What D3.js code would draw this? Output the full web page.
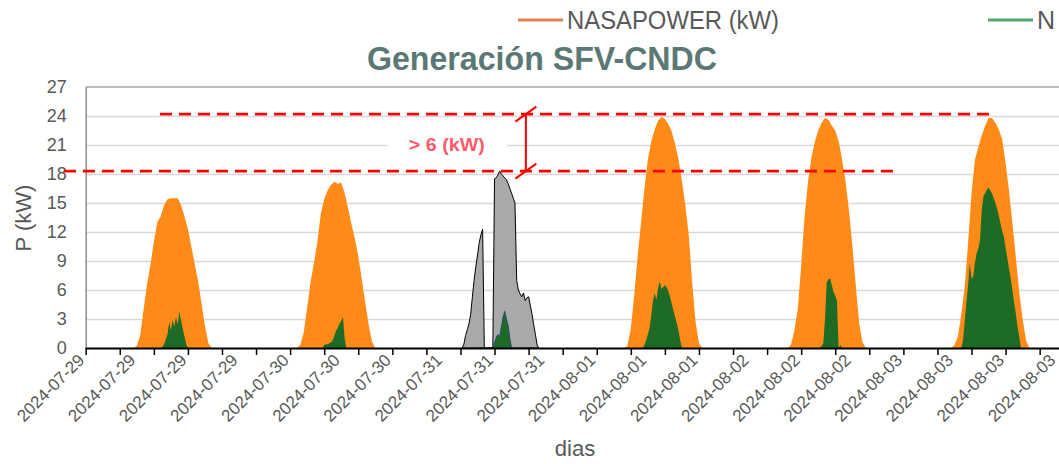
<!DOCTYPE html>
<html>
<head>
<meta charset="utf-8">
<script src="https://cdn.jsdelivr.net/npm/d3@7/dist/d3.min.js"></script>
<style>
  html, body { margin: 0; padding: 0; background: #fff; overflow: hidden; }
  svg { display: block; }
</style>
</head>
<body>
<svg id="chart" width="1059" height="464"></svg>
<script>
// ---------------- DATA ----------------
const titleText = "Generación SFV-CNDC";
const yLabelText = "P (kW)";
const xLabelText = "dias";
const legendNames = ["NASAPOWER (kW)", "N"];

// y ticks
const yTicks = [0, 3, 6, 9, 12, 15, 18, 21, 24, 27];
// x ticks: hours since 2024-07-29 00:00
const xTickHours = d3.range(0, 141, 5);
const xTickLabels = ["2024-07-29","2024-07-29","2024-07-29","2024-07-29",
  "2024-07-30","2024-07-30","2024-07-30",
  "2024-07-31","2024-07-31","2024-07-31",
  "2024-08-01","2024-08-01","2024-08-01",
  "2024-08-02","2024-08-02","2024-08-02",
  "2024-08-03","2024-08-03","2024-08-03","2024-08-03"];
const xLabelHours = [0, 7.5, 15, 22.5, 30, 37.5, 45, 52.5, 60, 67.5, 75, 82.5, 90, 97.5, 105, 112.5, 120, 127.5, 135, 142.5];

// NASAPOWER (kW), half-hour steps starting at 07:00 local
const nasaDayIndex = [0, 1, 3, 4, 5];
const nasaStartHour = 7;
const nasaStep = 0.5;
const nasa0729 = [0, 0.2, 1.3, 4.0, 6.6, 8.6, 11.0, 13.0, 13.6, 14.8, 15.4, 15.5, 15.5, 15.5, 14.8, 13.6, 12.3, 10.5, 8.7, 6.9, 4.6, 2.3, 0.5, 0];
const nasa0730 = [0, 0.3, 1.6, 4.2, 6.8, 8.8, 11.0, 13.9, 15.4, 16.3, 16.9, 17.2, 17.0, 17.1, 16.0, 14.5, 12.8, 11.3, 9.5, 7.2, 4.8, 2.5, 0.7, 0];
const nasa0801 = [0, 0.2, 2.0, 5.5, 9.5, 13.0, 16.5, 19.5, 21.4, 22.6, 23.5, 23.9, 23.7, 23.2, 22.4, 21.1, 19.5, 17.3, 14.8, 11.7, 6.8, 2.7, 0.5, 0];
const nasa0802 = [0, 0.3, 1.8, 4.0, 8.5, 13.6, 17.2, 19.7, 21.3, 22.5, 23.3, 23.8, 23.6, 23.0, 22.5, 21.4, 19.5, 17.3, 14.3, 10.7, 6.6, 2.6, 0.6, 0];
const nasa0803 = [0, 0.3, 1.2, 3.5, 6.3, 10.9, 16.0, 19.5, 20.8, 22.0, 23.0, 23.8, 23.8, 23.3, 22.6, 21.6, 19.1, 16.3, 12.9, 9.4, 5.8, 3.0, 0.8, 0];
const nasaSeries = [nasa0729, nasa0730, nasa0801, nasa0802, nasa0803];

// Estimated series for 2024-07-31 (grey), quarter-hour steps from 07:15
const estDayIndex = 2;
const estStartHour = 7.25;
const estStep = 0.25;
const est0731 = [0, 0.4, 1.3, 1.9, 2.5, 3.5, 5.3, 7.0, 8.4, 9.6, 10.9, 11.7, 12.3,
  0, 0, 0, 0, 0, 0,
  17.5, 17.6, 17.9, 18.3, 18.0, 17.8, 17.6, 17.4, 17.0, 16.5, 16.0, 15.5, 15.0,
  7.0, 6.0, 5.6, 5.3, 5.7, 4.9, 5.2, 5.3, 4.4, 3.5, 2.4, 1.4, 0.3, 0];

// Measured (green), quarter-hour steps
const measDayIndex = [0, 1, 2, 3, 4, 5];
const measStartHour = [11.0, 10.75, 11.75, 9.75, 11.75, 8.5];
const measStep = 0.25;
const meas0729 = [0, 0.1, 0.4, 0.9, 1.4, 2.7, 1.8, 2.9, 2.2, 3.2, 2.4, 3.8, 2.8, 2.0, 1.2, 0.4, 0];
const meas0730 = [0, 0.3, 0.4, 0.4, 0.5, 0.6, 0.8, 1.3, 1.8, 2.1, 2.5, 2.8, 3.2, 1.0, 0];
const meas0731 = [0, 0.5, 1.1, 1.4, 1.2, 2.2, 3.2, 3.8, 3.0, 2.3, 1.0, 0];
const meas0801 = [0, 0.3, 0.8, 1.4, 2.1, 3.4, 4.9, 5.7, 5.0, 6.2, 6.9, 6.1, 6.3, 6.5, 6.3, 5.9, 5.3, 4.6, 3.9, 3.2, 2.5, 1.8, 0.8, 0];
const meas0802 = [0, 0.2, 0.5, 3.0, 6.8, 7.1, 7.2, 6.5, 5.8, 5.4, 4.9, 0, 0.3, 0];
const meas0803 = [0, 0.8, 2.8, 4.7, 6.5, 8.8, 7.2, 7.4, 8.8, 9.8, 10.3, 11.2, 14.3, 15.7, 16.0, 16.4, 16.6, 16.3, 16.0, 15.5, 15.0, 14.4, 13.7, 12.9, 12.1, 11.5, 10.4, 9.3, 8.2, 7.2, 6.0, 4.7, 3.6, 2.2, 1.2, 0];
const measSeries = [meas0729, meas0730, meas0731, meas0801, meas0802, meas0803];

// Annotation (hours, kW)
const refHigh = 24.2, refLow = 18.3;
const refHighSpan = [10.9, 133.2];
const refLowSpan = [-3.2, 119.1];
const gapHour = 64.6;
const gapText = "> 6 (kW)";

// ---------------- CHART ----------------
const svg = d3.select("#chart");
const W = 1059, H = 464;
const m = { left: 85.7, top: 87, bottom: 348 };
const pxPerHour = 34.07 / 5;

const x = d3.scaleLinear().domain([0, 144]).range([m.left, m.left + 144 * pxPerHour]);
const y = d3.scaleLinear().domain([0, 27]).range([m.bottom, m.top]);

const font = "'Liberation Sans', Arial, sans-serif";
const textGray = "#595959";

// gridlines
const grid = svg.append("g").attr("transform", `translate(${m.left},0)`)
  .call(d3.axisLeft(y).tickValues(yTicks.filter(t => t > 0 && t < 27)).tickSize(-(W - m.left)).tickFormat(""));
grid.select(".domain").remove();
grid.selectAll("line").attr("stroke", "#d9d9d9").attr("stroke-width", 1.5);

// top border
svg.append("line").attr("x1", m.left).attr("x2", W).attr("y1", y(27)).attr("y2", y(27))
  .attr("stroke", "#a6a6a6").attr("stroke-width", 1.5);

// areas
const areaGen = (start, step, dayIdx) => d3.area()
  .x((d, i) => x(dayIdx * 24 + start + i * step))
  .y0(y(0))
  .y1(d => y(d));

nasaSeries.forEach((vals, k) => {
  svg.append("path").datum(vals)
    .attr("d", areaGen(nasaStartHour, nasaStep, nasaDayIndex[k]))
    .attr("fill", "#fe8b18");
});

svg.append("path").datum(est0731)
  .attr("d", areaGen(estStartHour, estStep, estDayIndex))
  .attr("fill", "#a9a9a9").attr("stroke", "#000").attr("stroke-width", 1);

measSeries.forEach((vals, k) => {
  const p = svg.append("path").datum(vals)
    .attr("d", areaGen(measStartHour[k], measStep, measDayIndex[k]))
    .attr("fill", "#1d6b25");
  if (measDayIndex[k] === estDayIndex) p.attr("stroke", "#1f3d73").attr("stroke-width", 0.8);
});

// y axis
const yAx = svg.append("g").attr("transform", `translate(${m.left},0)`)
  .call(d3.axisLeft(y).tickValues(yTicks).tickSize(0).tickPadding(19));
yAx.select(".domain").attr("stroke", "#8c8c8c").attr("stroke-width", 1.5);
yAx.selectAll("text").attr("font-family", font).attr("font-size", 18).attr("fill", textGray);

// x axis (ticks)
const xAx = svg.append("g").attr("transform", `translate(0,${m.bottom})`)
  .call(d3.axisBottom(x).tickValues(xTickHours).tickSize(7).tickSizeOuter(0).tickFormat(""));
xAx.select(".domain").attr("stroke", "#000").attr("stroke-width", 2)
  .attr("d", `M${m.left},0.5H${W}`);
xAx.selectAll(".tick line").attr("stroke", "#000").attr("stroke-width", 1.5);

// x axis labels
const xLab = svg.append("g").attr("transform", `translate(0,${m.bottom})`)
  .call(d3.axisBottom(x).tickValues(xLabelHours).tickSize(0).tickFormat((d, i) => xTickLabels[i]));
xLab.select(".domain").remove();
xLab.selectAll("text")
  .attr("font-family", font).attr("font-size", 17).attr("fill", textGray)
  .attr("text-anchor", "end")
  .attr("transform", "translate(-5,9) rotate(-45)")
  .attr("dy", "0.35em").attr("y", 0).attr("x", 0);

// annotation: white box behind the text
svg.append("rect").attr("x", x(44.3)).attr("y", y(22.7)).attr("width", x(61.8) - x(44.3))
  .attr("height", y(19.4) - y(22.7)).attr("fill", "#fff");

svg.append("line").attr("x1", x(refHighSpan[0])).attr("x2", x(refHighSpan[1]))
  .attr("y1", y(refHigh)).attr("y2", y(refHigh))
  .attr("stroke", "#ff0000").attr("stroke-width", 2.7).attr("stroke-dasharray", "12,7");
svg.append("line").attr("x1", x(refLowSpan[0])).attr("x2", x(refLowSpan[1]))
  .attr("y1", y(refLow)).attr("y2", y(refLow))
  .attr("stroke", "#ff0000").attr("stroke-width", 2.7).attr("stroke-dasharray", "12,7");

svg.append("line").attr("x1", x(gapHour)).attr("x2", x(gapHour))
  .attr("y1", y(refHigh)).attr("y2", y(refLow))
  .attr("stroke", "#ff0000").attr("stroke-width", 2);
[refHigh, refLow].forEach(v => {
  svg.append("line")
    .attr("x1", x(gapHour) - 10.5).attr("y1", y(v) + 7.5)
    .attr("x2", x(gapHour) + 10.5).attr("y2", y(v) - 7.5)
    .attr("stroke", "#ff0000").attr("stroke-width", 2);
});

svg.append("text").attr("x", x(53.0)).attr("y", y(20.4))
  .attr("text-anchor", "middle").attr("font-family", font).attr("font-weight", "bold")
  .attr("font-size", 18.5).attr("fill", "#ff5a6a")
  .attr("textLength", 76).attr("lengthAdjust", "spacingAndGlyphs").text(gapText);

// title
svg.append("text").attr("x", 542).attr("y", 70).attr("text-anchor", "middle")
  .attr("font-family", "'Liberation Sans Narrow', 'Liberation Sans', sans-serif")
  .attr("font-weight", "bold").attr("font-size", 34).attr("fill", "#5b7874")
  .attr("textLength", 350).attr("lengthAdjust", "spacingAndGlyphs")
  .text(titleText);

// axis titles
svg.append("text").attr("transform", `translate(31,218) rotate(-90)`)
  .attr("text-anchor", "middle").attr("font-family", font).attr("font-size", 22)
  .attr("fill", textGray).text(yLabelText);
svg.append("text").attr("x", 575).attr("y", 456).attr("text-anchor", "middle")
  .attr("font-family", font).attr("font-size", 22).attr("fill", textGray).text(xLabelText);

// legend
const legendX = [518, 988];
const legendColors = ["#dd8452", "#55a868"];
legendNames.forEach((n, i) => {
  svg.append("line").attr("x1", legendX[i]).attr("x2", legendX[i] + 45)
    .attr("y1", 20).attr("y2", 20).attr("stroke", legendColors[i]).attr("stroke-width", 3);
  const t = svg.append("text").attr("x", legendX[i] + 49).attr("y", 29)
    .attr("font-family", "'Liberation Sans Narrow', 'Liberation Sans', sans-serif")
    .attr("font-size", 25).attr("fill", textGray).text(n);
  if (i === 0) t.attr("textLength", 212).attr("lengthAdjust", "spacingAndGlyphs");
});
</script>
</body>
</html>
